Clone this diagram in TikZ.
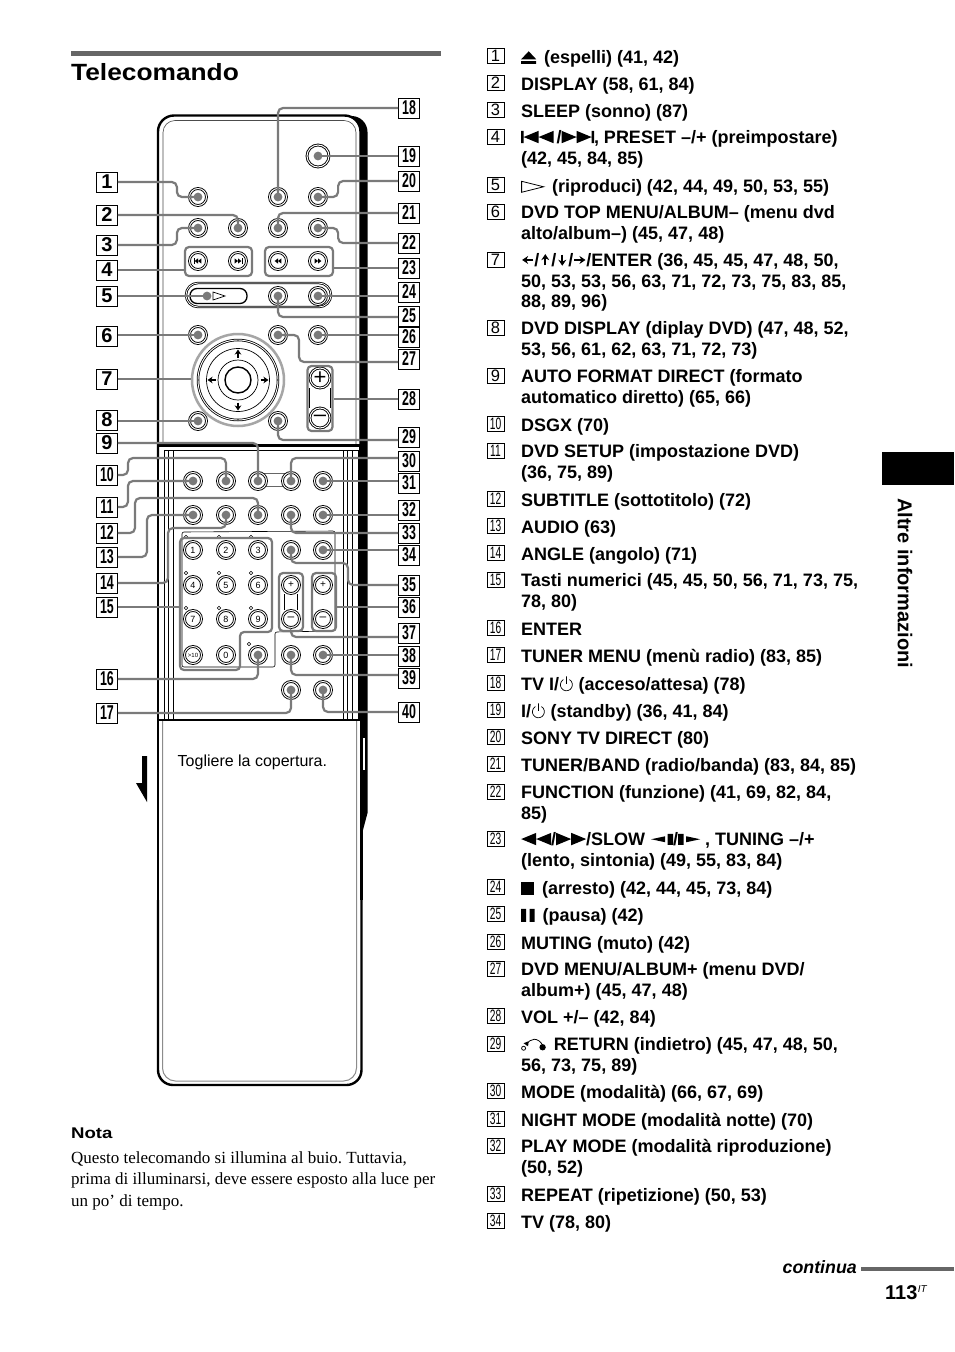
\documentclass[tikz,border=0pt]{standalone}
\usepackage{fontspec}
\setmainfont{Liberation Sans}
\newfontfamily\serfont{Liberation Serif}
\usetikzlibrary{arrows.meta}
\tikzset{>=stealth}
\tikzset{
    leader/.style={draw=black!52,line width=2.2pt,rounded corners=5pt},
    dotend/.style={-{Circle[length=8.6pt,width=8.6pt]},shorten >=-4.3pt},
    btn/.style={circle,draw=black,fill=white,line width=.9pt,double=white,double distance=1pt,
        minimum size=17pt,inner sep=0pt,outer sep=0pt,font=\fontsize{9}{9}\selectfont},
    grp/.style={draw=black!52,line width=2.2pt,rounded corners=4pt,inner sep=0pt},
    tag/.style={draw=black,line width=.8pt,minimum width=21pt,minimum height=20pt,inner sep=0pt,fill=white,
        font=\bfseries\fontsize{20}{20}\selectfont},
    numbox/.style={draw=black,line width=.8pt,minimum width=17pt,minimum height=15pt,inner sep=0pt,
        font=\fontsize{16.5}{16.5}\selectfont},
    listtext/.style={anchor=north west,inner sep=0pt,align=left,
        font=\bfseries\fontsize{18}{20.8}\selectfont,execute at begin node=\strut},
    thinline/.style={draw=black,line width=.6pt},
}
\newcommand{\tagnum}[1]{\ifnum#1<10 #1\else\scalebox{.62}[1]{#1}\fi}
\newcommand{\lab}[3]{\node[tag] (l#1) at (#2,#3) {\tagnum{#1}};}
\newcommand{\listrow}[3]{
    \node[numbox] (n#1) at (495.5,#2-1) {\tagnum{#1}};
    \node[listtext] (t#1) at (521,#2-8) {#3};
}
\newcommand{\ffsym}{\tikz[x=1pt,y=1pt,baseline=0pt]\fill (0,0)--(15,6.2)--(0,12.4)--cycle (15,0)--(30,6.2)--(15,12.4)--cycle;}
\newcommand{\rewsym}{\tikz[x=1pt,y=1pt,baseline=0pt]\fill (15,0)--(0,6.2)--(15,12.4)--cycle (30,0)--(15,6.2)--(30,12.4)--cycle;}
\newcommand{\prevsym}{\tikz[x=1pt,y=1pt,baseline=0pt]\fill (0,0) rectangle (2.4,12.4) (17.4,0)--(2.4,6.2)--(17.4,12.4)--cycle (32.4,0)--(17.4,6.2)--(32.4,12.4)--cycle;}
\newcommand{\nextsym}{\tikz[x=1pt,y=1pt,baseline=0pt]\fill (0,0)--(15,6.2)--(0,12.4)--cycle (15,0)--(30,6.2)--(15,12.4)--cycle (30,0) rectangle (32.4,12.4);}
\newcommand{\slowl}{\tikz[x=1pt,y=1pt,baseline=0pt]\fill (14,3)--(0,6)--(14,9)--cycle (16.5,0.5) rectangle (22,11.5);}
\newcommand{\slowr}{\tikz[x=1pt,y=1pt,baseline=0pt]\fill (0,0.5) rectangle (5.5,11.5) (8,3)--(22,6)--(8,9)--cycle;}
\newcommand{\ejectsym}{\tikz[x=1pt,y=1pt,baseline=0pt]\fill (0,4.5)--(7.5,12.5)--(15,4.5)--cycle (0,0) rectangle (15,2.6);}
\newcommand{\playsym}{\tikz[x=1pt,y=1pt,baseline=0pt]\draw[line width=.8pt] (0,0.5)--(22,6)--(0,11.5)--cycle;}
\newcommand{\stopsym}{\tikz[x=1pt,y=1pt,baseline=0pt]\fill (0,0) rectangle (13,13);}
\newcommand{\pausesym}{\tikz[x=1pt,y=1pt,baseline=0pt]\fill (0,0) rectangle (5,13) (8.5,0) rectangle (13.5,13);}
\newcommand{\pwrsym}{\smash{\tikz[x=1pt,y=1pt,baseline=0pt]\draw[line width=.7pt] (9,11.2) arc (60:-240:6) (6,14.5)--(6,7);}}
\newcommand{\retsym}{\smash{\tikz[x=1pt,y=1pt,baseline=0pt]{\draw[line width=.8pt] (2,2) circle (2) (5,5) .. controls (8,13) and (17,13) .. (21,5);\fill (21,3) circle (3.2);\fill (2,7) -- (7,9) -- (6.5,4) -- cycle;}}}
\newcommand{\arrsym}[1]{\tikz[x=1pt,y=1pt,baseline=-6.3pt]{\path (-6,-6) rectangle (6,6);\draw[line width=1.9pt,-{Stealth[length=6pt,width=8pt]}] (#1+180:5.4) -- (#1:5.8);}}
\begin{document}
\begin{tikzpicture}[x=1pt,y=-1pt]
    \useasboundingbox (0,0) rectangle (954,1352);
    \fill[white] (0,0) rectangle (954,1352);
    % heading
    \fill[black!60] (71,51) rectangle (441,56);
    \node[anchor=base west,inner sep=0pt,font=\bfseries\fontsize{23.5}{26}\selectfont] (title) at (71,80.5) {\scalebox{1.12}[1]{Telecomando}};
    % remote body
    \fill (340,116) [rounded corners=16pt] -- (367.5,116) -- (367.5,300) [sharp corners] -- (367.5,813) -- (363,830) -- (340,830) -- cycle;
    \draw[line width=2.4pt,fill=white,rounded corners=16pt] (158,460) -- (158,115.5) -- (360.5,115.5) -- (360.5,460);
    \draw[thinline,draw=black!70,rounded corners=12pt] (163,445) -- (163,120.5) -- (356,120.5) -- (356,445);
    \fill[white] (159.5,446) rectangle (359.5,720);
    \draw[line width=2.4pt] (158,445.5) -- (360.5,445.5);
    \draw[line width=2.4pt] (158,445.5) -- (158,720);
    \draw[line width=2.4pt] (360.5,445.5) -- (360.5,720);
    \draw[thinline] (164,450) -- (358,450);
    \foreach \x in {164,168,173,343,347,352,358}
        \draw[thinline] (\x,450) -- (\x,720);
    % cover
    \fill[white] (158,720) rectangle (361,1000);
    \draw[line width=2.4pt,rounded corners=15pt] (361.5,900) -- (361.5,1085) -- (158,1085) -- (158,900);
    \draw[line width=2.4pt] (158,900) -- (158,720) -- (361.5,720) -- (361.5,900);
    \draw[black!45,line width=1pt,rounded corners=13pt] (162.5,721) -- (162.5,1081) -- (356.5,1081) -- (356.5,721);
    \fill[white] (362.5,738) rectangle (364.5,770);
    \node[anchor=base west,inner sep=0pt,font=\fontsize{16}{16}\selectfont] (cover) at (177.5,766) {Togliere la copertura.};
    \fill (142,756) -- (147,756) -- (147,802) -- (136,783) -- (142,783) -- cycle;
    % panels
    \draw[thinline,rounded corners=2pt] (182,667) -- (182,532) -- (335,531) -- (335,631) -- (275,632) -- (275,667) -- cycle;
    \draw[thinline,draw=black!60] (262,473) -- (287,473) (262,486) -- (287,486);
    \draw[thinline,line width=.8pt,double=white,double distance=.8pt,rounded corners=12pt] (186,283) rectangle (331,307);
    \draw[black,line width=1.3pt,rounded corners=7pt] (190,288.5) rectangle (247,303.5);
    \draw[line width=.7pt] (213,292) -- (225,296) -- (213,300) -- cycle;
    \coordinate (b5) at (207,296);
    % buttons
    \foreach \n/\x/\y in {1/198/197,18/278/197,20/318/197,
        3/198/228,2/238/228,21/278/228,22/318/228,
        25/278/296,24/318/296,
        6/198/335,27/278/335,26/318/335,
        8/198/421,29/278/421,
        11/193/481,10/226/481,9/258/481,30/291/481,31/323/481,
        13/193/515,14/226/515,12/258/515,33/291/515,32/323/515,
        35/291/550,34/323/550,
        16/258/655,39/291/655,38/323/655,
        17/291/690,40/323/690}
        \node[btn] (b\n) at (\x,\y) {};
    \node[btn,minimum size=22pt] (b19) at (318,156) {};
    % skip buttons
    \foreach \n/\x/\d in {s1/198/-1,s2/238/1,s3/278/-1,s4/318/1}{
        \node[btn] (b\n) at (\x,261) {};
        \fill (b\n.center) ++(0,-2.6) -- ++(\d*3.4,2.6) -- ++(-\d*3.4,2.6) -- cycle;
        \fill (b\n.center) ++(-\d*3.4,-2.6) -- ++(\d*3.4,2.6) -- ++(-\d*3.4,2.6) -- cycle;
    }
    \foreach \n/\d in {s1/-1,s2/1}
        \draw[line width=.7pt] (b\n.center) ++(\d*4,-2.6) -- ++(0,5.2);
    % number pad
    \foreach \t/\x/\y in {1/193/550,2/226/550,3/258/550,4/193/585,5/226/585,6/258/585,
        7/193/619,8/226/619,9/258/619,0/226/655}
        \node[btn] (d\t) at (\x,\y) {\t};
    \node[btn,font=\fontsize{6}{7}\selectfont] (dten) at (193,655) {>10};
    \foreach \x/\y in {186/537,219/537,251/537,186/573,219/573,251/573,186/608,219/608,251/608,249/644}
        \draw[line width=.5pt] (\x,\y) circle (1.8);
    \node[btn,font=\fontsize{10}{10}\selectfont] (tp) at (291,585) {+};
    \node[btn,font=\fontsize{12}{10}\selectfont] (tm) at (291,619) {--};
    \node[btn,font=\fontsize{10}{10}\selectfont] (up) at (323,585) {+};
    \node[btn,font=\fontsize{12}{10}\selectfont] (um) at (323,619) {--};
    \draw[thinline] (284.5,594) -- (284.5,610) (297.5,594) -- (297.5,610);
    % wheel
    \node[circle,draw=black!35,line width=2.5pt,fill=white,minimum size=92pt,inner sep=0pt] (wheel) at (238,380) {};
    \draw[line width=.8pt,double=white,double distance=.9pt] (wheel.center) circle (40);
    \draw[line width=.7pt] (wheel.center) circle (31.5);
    \draw[line width=.7pt] (wheel.center) circle (20);
    \draw[line width=1.4pt] (wheel.center) circle (13);
    \foreach \a in {0,90,180,270}
        \draw[line width=1.3pt,-{Stealth[length=5pt,width=6.5pt]}] (wheel.center) ++(\a:22.5) -- ++(\a:8);
    % volume
    \node[btn,minimum size=20pt,font=\fontsize{22}{20}\selectfont] (vp) at (320,378) {+};
    \node[btn,minimum size=20pt,font=\fontsize{22}{20}\selectfont] (vm) at (320,418) {--};
    \draw[thinline] (309.5,388) -- (309.5,408) (330.5,388) -- (330.5,408);
    % button groups
    \node[grp,minimum width=67pt,minimum height=29pt] (g4) at (218.5,261.5) {};
    \node[grp,minimum width=68pt,minimum height=29pt] (g23) at (299,261.5) {};
    \node[grp,minimum width=25pt,minimum height=65pt] (gvol) at (320,398.5) {};
    \node[grp,minimum width=24pt,minimum height=58pt] (g37) at (291,602) {};
    \node[grp,minimum width=24pt,minimum height=58pt] (g36) at (324,602) {};
    \draw[grp] (180,670) -- (180,538) -- (272,538) -- (272,632) -- (240,632) -- (240,670) -- cycle;
    \coordinate (g15) at (180,607);
    % labels left
    \lab{1}{107}{182} \lab{2}{107}{215} \lab{3}{107}{245} \lab{4}{107}{270} \lab{5}{107}{296}
    \lab{6}{107}{336} \lab{7}{107}{379} \lab{8}{107}{420} \lab{9}{107}{443} \lab{10}{107}{475}
    \lab{11}{107}{507} \lab{12}{107}{533} \lab{13}{107}{557} \lab{14}{107}{583} \lab{15}{107}{607}
    \lab{16}{107}{679} \lab{17}{107}{713}
    % labels right
    \lab{18}{409}{108} \lab{19}{409}{156} \lab{20}{409}{181} \lab{21}{409}{213} \lab{22}{409}{243}
    \lab{23}{409}{268} \lab{24}{409}{292} \lab{25}{409}{316} \lab{26}{409}{337} \lab{27}{409}{359}
    \lab{28}{409}{399} \lab{29}{409}{437} \lab{30}{409}{461} \lab{31}{409}{483} \lab{32}{409}{510}
    \lab{33}{409}{533} \lab{34}{409}{555} \lab{35}{409}{585} \lab{36}{409}{607} \lab{37}{409}{633}
    \lab{38}{409}{656} \lab{39}{409}{678} \lab{40}{409}{712}
    % leaders
    \foreach \n in {19,24,26,31,32,34,38}
        \draw[leader,dotend] (b\n.center -| l\n.west) -- (b\n.center);
    \foreach \n in {6,8}
        \draw[leader,dotend] (b\n.center -| l\n.east) -- (b\n.center);
    \draw[leader,dotend] (b5 -| l5.east) -- (b5);
    \draw[leader] (l4.east) -- (l4.east -| g4.west);
    \draw[leader] (l7.east) -- (l7.east -| wheel.west);
    \draw[leader] (l15.east) -- (l15.east -| g15);
    \draw[leader] (l23.west) -- (l23.west -| g23.east);
    \draw[leader] (l28.west) -- (l28.west -| gvol.east);
    \draw[leader] (l36.west) -- (l36.west -| g36.east);
    \draw[leader,dotend] (l1.east) -- ++(59,0) |- (b1.center);
    \draw[leader,dotend] (l2.east) -| (b2.center);
    \draw[leader,dotend] (l3.east) -- ++(59,0) |- (b3.center);
    \draw[leader,dotend] (l9.east) -| (b9.center);
    \draw[leader,dotend] (l10.east) -| (128,458) -| (b10.center);
    \draw[leader,dotend] (l11.east) -- ++(10,0) |- (b11.center);
    \draw[leader,dotend] (l12.east) -| (135,498) -| (b12.center);
    \draw[leader,dotend] (l13.east) -- ++(29,0) |- (b13.center);
    \draw[leader,dotend] (l14.east) -| (168,528) -| (b14.center);
    \draw[leader,dotend] (l16.east) -| (b16.center);
    \draw[leader,dotend] (l17.east) -| (b17.center);
    \draw[leader,dotend] (l18.west) -| (b18.center);
    \draw[leader,dotend] (l20.west) -- ++(-60,0) |- (b20.center);
    \draw[leader,dotend] (l21.west) -| (b21.center);
    \draw[leader,dotend] (l22.west) -- ++(-60,0) |- (b22.center);
    \draw[leader,dotend] ([yshift=-1pt]l25.west) -| (b25.center);
    \draw[leader,dotend] ([yshift=-3pt]l27.west) -| (299,335) -- (b27.center);
    \draw[leader,dotend] ([yshift=-3pt]l29.west) -| (b29.center);
    \draw[leader,dotend] ([yshift=3pt]l30.west) -| (b30.center);
    \draw[leader,dotend] (l33.west) -| (b33.center);
    \draw[leader,dotend] (l35.west) -| (348,563) -| (b35.center);
    \draw[leader] ([yshift=-4pt]l37.west) -| (g37.south);
    \draw[leader,dotend] ([yshift=3pt]l39.west) -| (b39.center);
    \draw[leader,dotend] (l40.west) -| (b40.center);
    % note
    \node[anchor=base west,inner sep=0pt,font=\bfseries\fontsize{15.5}{15}\selectfont] (nota) at (71,1138) {\scalebox{1.2}[1]{Nota}};
    \node[anchor=north west,inner sep=0pt,align=left,font=\serfont\frenchspacing\fontsize{17}{21.8}\selectfont,execute at begin node=\strut] (notetext) at (71,1151)
        {Questo telecomando si illumina al buio. Tuttavia,\\prima di illuminarsi, deve essere esposto alla luce per\\un po’ di tempo.};
    % list
    \listrow{1}{57}{\ejectsym\, (espelli) (41, 42)}
    \listrow{2}{84}{DISPLAY (58, 61, 84)}
    \listrow{3}{111}{SLEEP (sonno) (87)}
    \listrow{4}{138}{\prevsym\,/\nextsym, PRESET –/+ (preimpostare)\\(42, 45, 84, 85)}
    \listrow{5}{186}{\playsym\, (riproduci) (42, 44, 49, 50, 53, 55)}
    \listrow{6}{213}{DVD TOP MENU/ALBUM– (menu dvd\\alto/album–) (45, 47, 48)}
    \listrow{7}{261}{\arrsym{180}/\arrsym{90}/\arrsym{270}/\arrsym{0}/ENTER (36, 45, 45, 47, 48, 50,\\50, 53, 53, 56, 63, 71, 72, 73, 75, 83, 85,\\88, 89, 96)}
    \listrow{8}{329}{DVD DISPLAY (diplay DVD) (47, 48, 52,\\53, 56, 61, 62, 63, 71, 72, 73)}
    \listrow{9}{377}{AUTO FORMAT DIRECT (formato\\automatico diretto) (65, 66)}
    \listrow{10}{425}{DSGX (70)}
    \listrow{11}{452}{DVD SETUP (impostazione DVD)\\(36, 75, 89)}
    \listrow{12}{500}{SUBTITLE (sottotitolo) (72)}
    \listrow{13}{527}{AUDIO (63)}
    \listrow{14}{554}{ANGLE (angolo) (71)}
    \listrow{15}{581}{Tasti numerici (45, 45, 50, 56, 71, 73, 75,\\78, 80)}
    \listrow{16}{629}{ENTER}
    \listrow{17}{656}{TUNER MENU (menù radio) (83, 85)}
    \listrow{18}{684}{TV I/\pwrsym{} (acceso/attesa) (78)}
    \listrow{19}{711}{I/\pwrsym{} (standby) (36, 41, 84)}
    \listrow{20}{738}{SONY TV DIRECT (80)}
    \listrow{21}{765}{TUNER/BAND (radio/banda) (83, 84, 85)}
    \listrow{22}{793}{FUNCTION (funzione) (41, 69, 82, 84,\\85)}
    \listrow{23}{840}{\rewsym/\ffsym/SLOW\,\,\slowl/\slowr{} , TUNING –/+\\(lento, sintonia) (49, 55, 83, 84)}
    \listrow{24}{888}{\stopsym\, (arresto) (42, 44, 45, 73, 84)}
    \listrow{25}{915}{\pausesym\, (pausa) (42)}
    \listrow{26}{943}{MUTING (muto) (42)}
    \listrow{27}{970}{DVD MENU/ALBUM+ (menu DVD/\\album+) (45, 47, 48)}
    \listrow{28}{1017}{VOL +/– (42, 84)}
    \listrow{29}{1045}{\retsym\, RETURN (indietro) (45, 47, 48, 50,\\56, 73, 75, 89)}
    \listrow{30}{1092}{MODE (modalità) (66, 67, 69)}
    \listrow{31}{1120}{NIGHT MODE (modalità notte) (70)}
    \listrow{32}{1147}{PLAY MODE (modalità riproduzione)\\(50, 52)}
    \listrow{33}{1195}{REPEAT (ripetizione) (50, 53)}
    \listrow{34}{1222}{TV (78, 80)}
    % side tab and footer
    \fill (882,452) rectangle (954,485);
    \node[rotate=-90,anchor=west,inner sep=0pt,font=\bfseries\fontsize{20}{20}\selectfont] (side) at (905,498) {Altre informazioni};
    \node[anchor=base east,inner sep=0pt,font=\bfseries\itshape\fontsize{17.8}{18}\selectfont] (cont) at (857,1273) {continua};
    \fill[black!60] (861,1267) rectangle (954,1271);
    \node[anchor=base west,inner sep=0pt,font=\bfseries\fontsize{20}{20}\selectfont] (page) at (885,1299) {113};
    \node[anchor=base west,inner sep=0pt,font=\itshape\fontsize{10}{10}\selectfont] (pagesup) at (page.base east) {\raisebox{7pt}{IT}};
\end{tikzpicture}
\end{document}
